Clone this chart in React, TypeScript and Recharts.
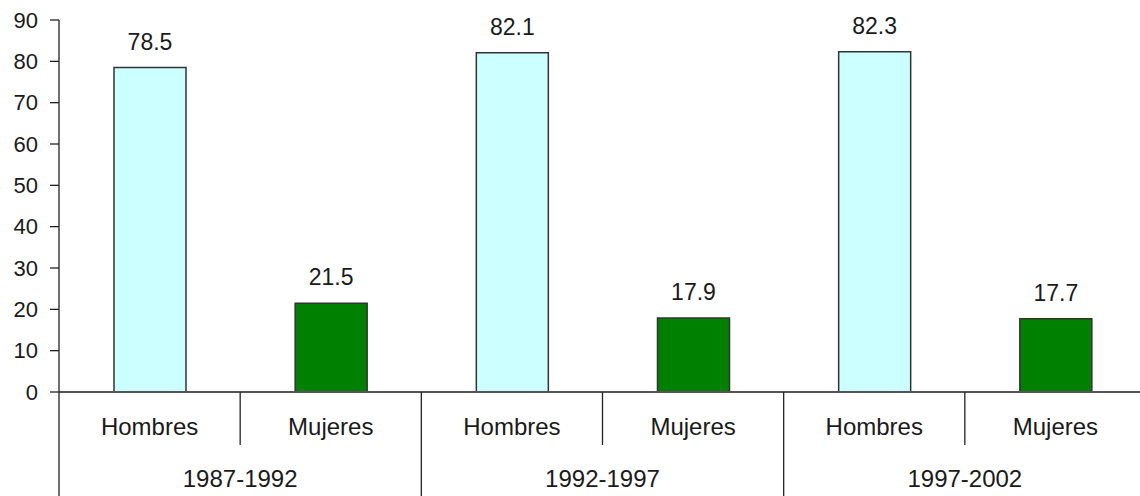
import React from 'react';
import { BarChart, Bar, XAxis, YAxis, Cell, LabelList } from 'recharts';

const periods = ['1987-1992', '1992-1997', '1997-2002'];
const sexes = ['Hombres', 'Mujeres'];
const hombres = [78.5, 82.1, 82.3];
const mujeres = [21.5, 17.9, 17.7];
const yTicks = [0, 10, 20, 30, 40, 50, 60, 70, 80, 90];
const sexColors = ['#CCFFFF', '#008000'];

const data = periods.flatMap((period, i) =>
  sexes.map((sex, j) => ({
    key: `${period}|${sex}`,
    period,
    sex,
    sexIndex: j,
    value: j === 0 ? hombres[i] : mujeres[i],
  }))
);

const CHART_W = 1146;
const CHART_H = 496;
const Y_W = 59;
const MARGIN = { top: 20, right: 0, bottom: 0, left: 0 };
const X_H = CHART_H - 392 - MARGIN.bottom;
const SLOT = (CHART_W - Y_W - MARGIN.left - MARGIN.right) / data.length;
const FONT = '"Liberation Sans", Arial, Helvetica, sans-serif';
const TEXT = '#1a1a1a';

const CategoryTick = (props: any) => {
  const { x, y, index, payload } = props;
  const half = SLOT / 2;
  const row = data[index] || data.find((d) => d.key === payload?.value);
  const isGroupEnd = index % 2 === 1;
  return (
    <g>
      <text x={x} y={y + 43} textAnchor="middle" fontSize={24} fill={TEXT} fontFamily={FONT}>
        {row ? row.sex : ''}
      </text>
      {index === 0 && (
        <line x1={x - half} y1={y} x2={x - half} y2={y + 104} stroke="#222" strokeWidth={1.3} />
      )}
      <line
        x1={x + half}
        y1={y}
        x2={x + half}
        y2={isGroupEnd ? y + 104 : y + 53}
        stroke="#222"
        strokeWidth={1.3}
      />
      {isGroupEnd && row && (
        <text x={x - half} y={y + 95} textAnchor="middle" fontSize={24} fill={TEXT} fontFamily={FONT}>
          {row.period}
        </text>
      )}
    </g>
  );
};

export default function App() {
  return (
    <div
      style={{
        position: 'absolute',
        left: 0,
        top: 0,
        width: 1140,
        height: 496,
        overflow: 'hidden',
        background: '#fff',
        fontFamily: FONT,
      }}
    >
      <BarChart width={CHART_W} height={CHART_H} data={data} margin={MARGIN}>
        <XAxis
          dataKey="key"
          type="category"
          height={X_H}
          tick={<CategoryTick />}
          tickLine={false}
          tickSize={0}
          tickMargin={0}
          interval={0}
          axisLine={{ stroke: '#555', strokeWidth: 2 }}
        />
        <YAxis
          type="number"
          domain={[0, 90]}
          ticks={yTicks}
          width={Y_W}
          interval={0}
          tickSize={9}
          tickMargin={12}
          tick={{ fontSize: 22, fill: TEXT, fontFamily: FONT }}
          tickLine={{ stroke: '#222', strokeWidth: 1.3 }}
          axisLine={{ stroke: '#222', strokeWidth: 1.3 }}
        />
        <Bar dataKey="value" barSize={72} stroke="#333" strokeWidth={1.5} isAnimationActive={false}>
          {data.map((d) => (
            <Cell key={d.key} fill={sexColors[d.sexIndex]} />
          ))}
          <LabelList
            dataKey="value"
            position="top"
            offset={18}
            fontSize={23}
            fill={TEXT}
            fontFamily={FONT}
            formatter={(v: any) => Number(v).toFixed(1)}
          />
        </Bar>
      </BarChart>
    </div>
  );
}
